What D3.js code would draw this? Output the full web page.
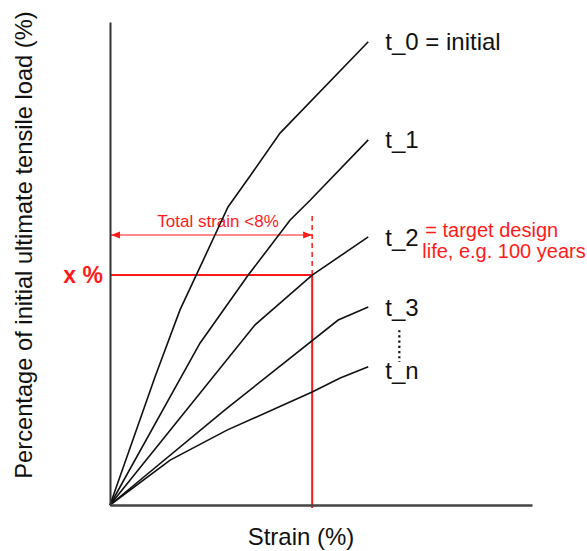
<!DOCTYPE html>
<html>
<head>
<meta charset="utf-8">
<script src="https://cdn.jsdelivr.net/npm/d3@7"></script>
<style>
  body { margin: 0; background: #fff; }
  svg { display: block; font-family: "Liberation Sans", Arial, sans-serif; }
</style>
</head>
<body>
<div id="chart"></div>
<script>
// strain (%) vs percentage of initial UTS (%)
const t0 = [[0, 0], [1.78, 26.5], [2.77, 40.4], [3.45, 48.0], [4.67, 61.7], [5.62, 68.7], [6.73, 77.0], [10.22, 95.9]];
const t1 = [[0, 0], [3.56, 33.5], [5.47, 47.6], [7.13, 59.0], [7.92, 63.1], [10.22, 75.6]];
const t2 = [[0, 0], [5.74, 37.3], [8.0, 47.6], [10.22, 55.5]];
const t3 = [[0, 0], [4.55, 19.7], [9.03, 38.3], [10.22, 41.0]];
const tn = [[0, 0], [2.38, 9.3], [4.63, 15.5], [8.0, 23.4], [9.11, 26.3], [10.22, 28.6]];
const curveLabels = ["t_0 = initial", "t_1", "t_2", "t_3", "t_n"];

const strainLimit = 8;      // total strain <8%
const loadAtLimit = 47.6;   // "x %"
const dashTop = 60;
const arrowLevel = 55.9;

const width = 587, height = 551;
const margin = { top: 22, right: 55, bottom: 46, left: 110 };

const x = d3.scaleLinear().domain([0, 16.7]).range([margin.left, width - margin.right]);
const y = d3.scaleLinear().domain([0, 100]).range([height - margin.bottom, margin.top]);

const svg = d3.select("#chart").append("svg")
  .attr("width", width)
  .attr("height", height);

const red = "#ff1a1a";

// arrow markers
const defs = svg.append("defs");
["start", "end"].forEach((k) => {
  defs.append("marker")
    .attr("id", "arrow-" + k)
    .attr("viewBox", "0 0 10 10")
    .attr("refX", k === "end" ? 10 : 0)
    .attr("refY", 5)
    .attr("markerWidth", 9)
    .attr("markerHeight", 9)
    .attr("markerUnits", "userSpaceOnUse")
    .attr("orient", "auto")
    .append("path")
    .attr("d", k === "end" ? "M0,1L10,5L0,9Z" : "M10,1L0,5L10,9Z")
    .attr("fill", red);
});

// red guide lines
svg.append("line")
  .attr("x1", x(0)).attr("x2", x(strainLimit))
  .attr("y1", y(loadAtLimit)).attr("y2", y(loadAtLimit))
  .attr("stroke", red).attr("stroke-width", 2);
svg.append("line")
  .attr("x1", x(strainLimit)).attr("x2", x(strainLimit))
  .attr("y1", y(loadAtLimit)).attr("y2", y(0) + 3)
  .attr("stroke", red).attr("stroke-width", 2);
svg.append("line")
  .attr("x1", x(strainLimit)).attr("x2", x(strainLimit))
  .attr("y1", y(loadAtLimit)).attr("y2", y(dashTop))
  .attr("stroke", red).attr("stroke-width", 1.5)
  .attr("stroke-dasharray", "5,4");
svg.append("line")
  .attr("x1", x(0) + 1).attr("x2", x(strainLimit))
  .attr("y1", y(arrowLevel)).attr("y2", y(arrowLevel))
  .attr("stroke", red).attr("stroke-width", 1)
  .attr("marker-start", "url(#arrow-start)")
  .attr("marker-end", "url(#arrow-end)");
svg.append("text")
  .attr("x", (x(0) + x(strainLimit)) / 2 + 7)
  .attr("y", y(arrowLevel) - 8)
  .attr("text-anchor", "middle")
  .attr("fill", red)
  .attr("font-size", 17)
  .text("Total strain <8%");

// curves
const line = d3.line().x((d) => x(d[0])).y((d) => y(d[1]));
const series = [t0, t1, t2, t3, tn];
svg.append("g")
  .selectAll("path")
  .data(series)
  .join("path")
  .attr("d", line)
  .attr("fill", "none")
  .attr("stroke", "#111")
  .attr("stroke-width", 1.6);

// curve labels
svg.append("g")
  .selectAll("text")
  .data(series)
  .join("text")
  .attr("x", (d) => x(d[d.length - 1][0]) + 17)
  .attr("y", (d) => y(d[d.length - 1][1]))
  .attr("dy", (d, i) => (i === 4 ? "0.5em" : "0.36em"))
  .attr("font-size", 24)
  .attr("fill", "#111")
  .text((d, i) => curveLabels[i]);

// dotted ellipsis between t_3 and t_n
svg.append("line")
  .attr("x1", x(11.45)).attr("x2", x(11.45))
  .attr("y1", y(36.2)).attr("y2", y(29.6))
  .attr("stroke", "#111").attr("stroke-width", 2.2)
  .attr("stroke-dasharray", "2.2,3");

// design life note
const note = svg.append("text")
  .attr("fill", red)
  .attr("font-size", 20);
note.append("tspan").attr("x", x(10.22) + 57).attr("y", y(55.5)).text("= target design");
note.append("tspan").attr("x", x(10.22) + 54).attr("y", y(55.5) + 21).text("life, e.g. 100 years");

// x % label
svg.append("text")
  .attr("x", x(0) - 7)
  .attr("y", y(loadAtLimit) + 8)
  .attr("text-anchor", "end")
  .attr("font-size", 23)
  .attr("font-weight", "bold")
  .attr("fill", red)
  .text("x %");

// axes
svg.append("g")
  .attr("transform", `translate(${x(0)},0)`)
  .call(d3.axisLeft(y).ticks(0).tickSize(0))
  .call((g) => g.select(".domain").attr("stroke", "#333").attr("stroke-width", 2));
svg.append("g")
  .attr("transform", `translate(0,${y(0)})`)
  .call(d3.axisBottom(x).ticks(0).tickSize(0))
  .call((g) => g.select(".domain").attr("stroke", "#444").attr("stroke-width", 2.5));

svg.append("text")
  .attr("x", 301)
  .attr("y", 545)
  .attr("text-anchor", "middle")
  .attr("font-size", 24)
  .attr("fill", "#111")
  .text("Strain (%)");

svg.append("text")
  .attr("transform", `translate(32,${245}) rotate(-90)`)
  .attr("text-anchor", "middle")
  .attr("font-size", 23.7)
  .attr("fill", "#111")
  .text("Percentage of initial ultimate tensile load (%)");
</script>
</body>
</html>
